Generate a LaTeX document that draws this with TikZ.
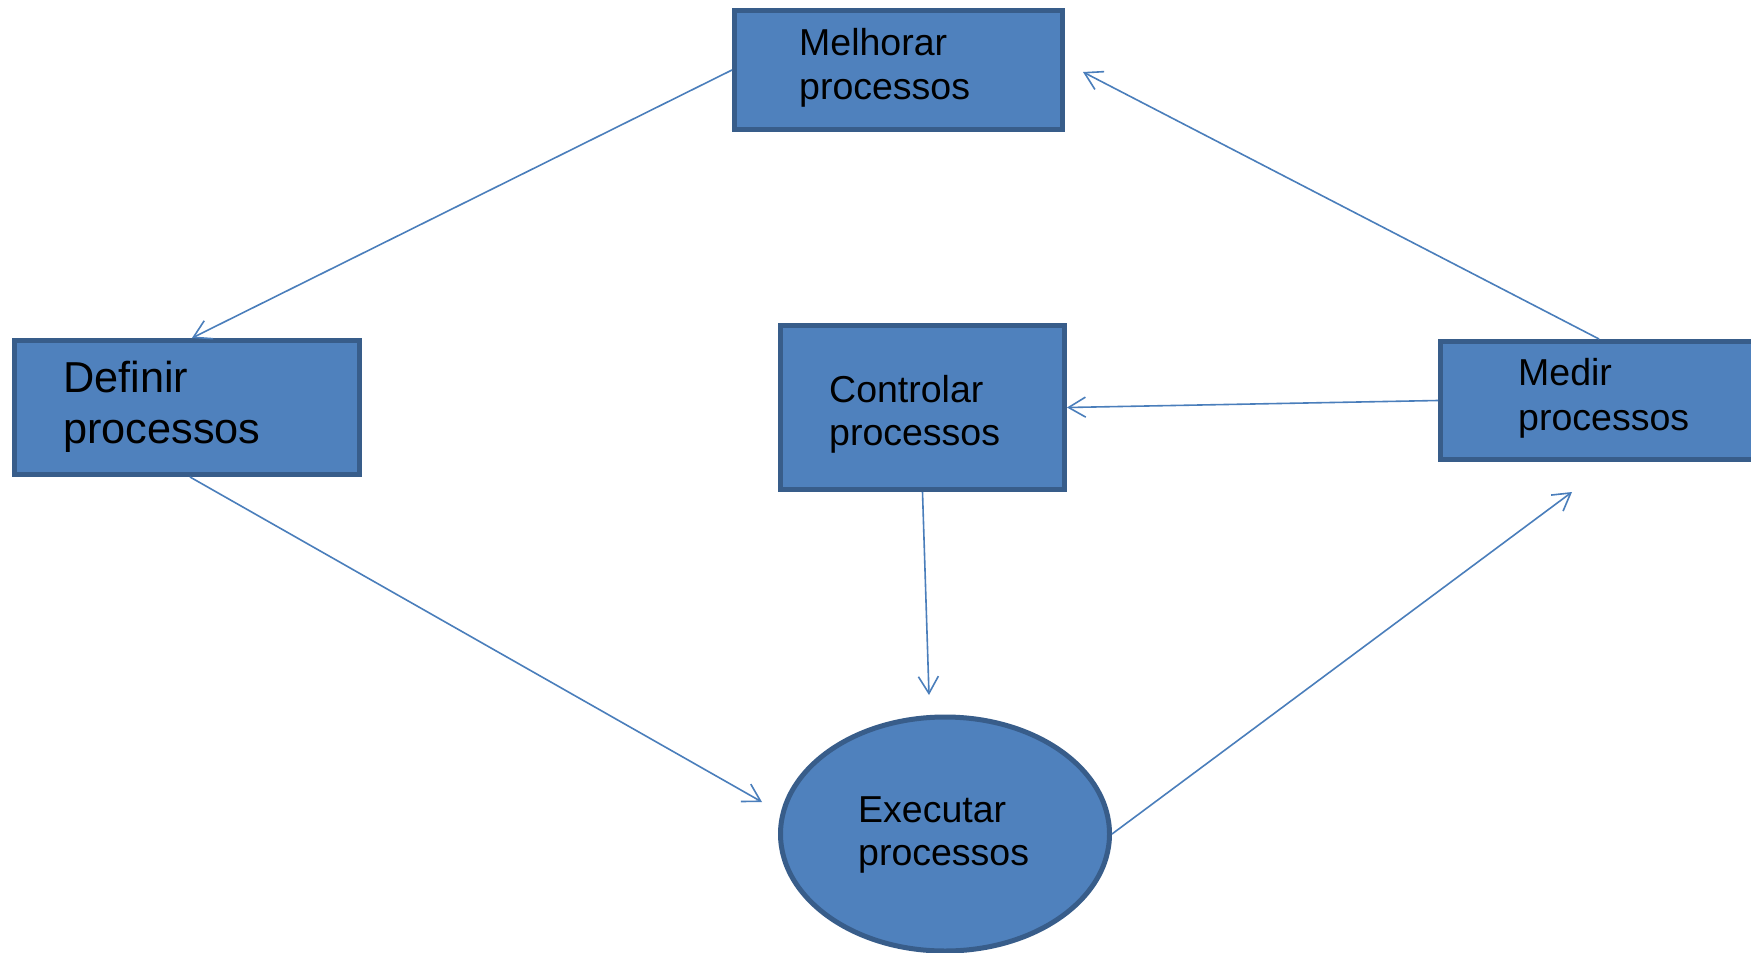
\documentclass[tikz,border=0pt]{standalone}
\usepackage{fontspec}
\setmainfont{Liberation Sans}
\usetikzlibrary{arrows.meta,shapes.geometric}
\definecolor{boxfill}{HTML}{4F81BD}
\definecolor{boxline}{HTML}{385D8A}
\definecolor{link}{HTML}{4A7EBB}
\begin{document}
\begin{tikzpicture}[x=1pt,y=-1pt,
  box/.style={draw=boxline, fill=boxfill, line width=5pt, rectangle, inner sep=0pt},
  oval/.style={draw=boxline, fill=boxfill, line width=5pt, ellipse, inner sep=0pt},
  lbl/.style={anchor=base west, inner sep=0pt, text=black},
  link/.style={draw=link, line width=1.6pt, -{Straight Barb[length=17pt,width=20pt]}}]
\clip (0,0) rectangle (1751,953);
\fill[white] (0,0) rectangle (1751,953);

% process boxes
\node[box, minimum width=328pt, minimum height=119pt] (mel) at (898.5,70) {};
\node[box, minimum width=345pt, minimum height=134pt] (def) at (187,407.5) {};
\node[box, minimum width=284pt, minimum height=164pt] (ctl) at (922.5,407.5) {};
\node[box, minimum width=317pt, minimum height=118pt] (med) at (1599,400.5) {};
\node[oval, minimum width=329pt, minimum height=234pt] (exe) at (945,834) {};

% labels
\node[lbl] (tmel) at (799,55) {\fontsize{37.5}{44}\selectfont\begin{tabular}[t]{@{}l@{}}Melhorar\\processos\end{tabular}};
\node[lbl] (tdef) at (63,392) {\fontsize{43.3}{51}\selectfont\begin{tabular}[t]{@{}l@{}}Definir\\processos\end{tabular}};
\node[lbl] (tctl) at (829,402) {\fontsize{37.5}{43}\selectfont\begin{tabular}[t]{@{}l@{}}Controlar\\processos\end{tabular}};
\node[lbl] (tmed) at (1518,385) {\fontsize{37.5}{45}\selectfont\begin{tabular}[t]{@{}l@{}}Medir\\processos\end{tabular}};
\node[lbl] (texe) at (858,822) {\fontsize{37.5}{43}\selectfont\begin{tabular}[t]{@{}l@{}}Executar\\processos\end{tabular}};

% free arrow ends
\coordinate (d2) at (762,802);
\coordinate (c3) at (929,695);
\coordinate (e4) at (1572,492);
\coordinate (m6) at (1083,72);

% cycle connectors
\draw[link] (mel.west) -- ([xshift=5pt]def.north);
\draw[link] ([xshift=3pt]def.south) -- (d2);
\draw[link] (ctl.south) -- (c3);
\draw[link] (exe.east) -- (e4);
\draw[link] (med.west) -- (ctl.east);
\draw[link] (med.north) -- (m6);
\end{tikzpicture}
\end{document}
